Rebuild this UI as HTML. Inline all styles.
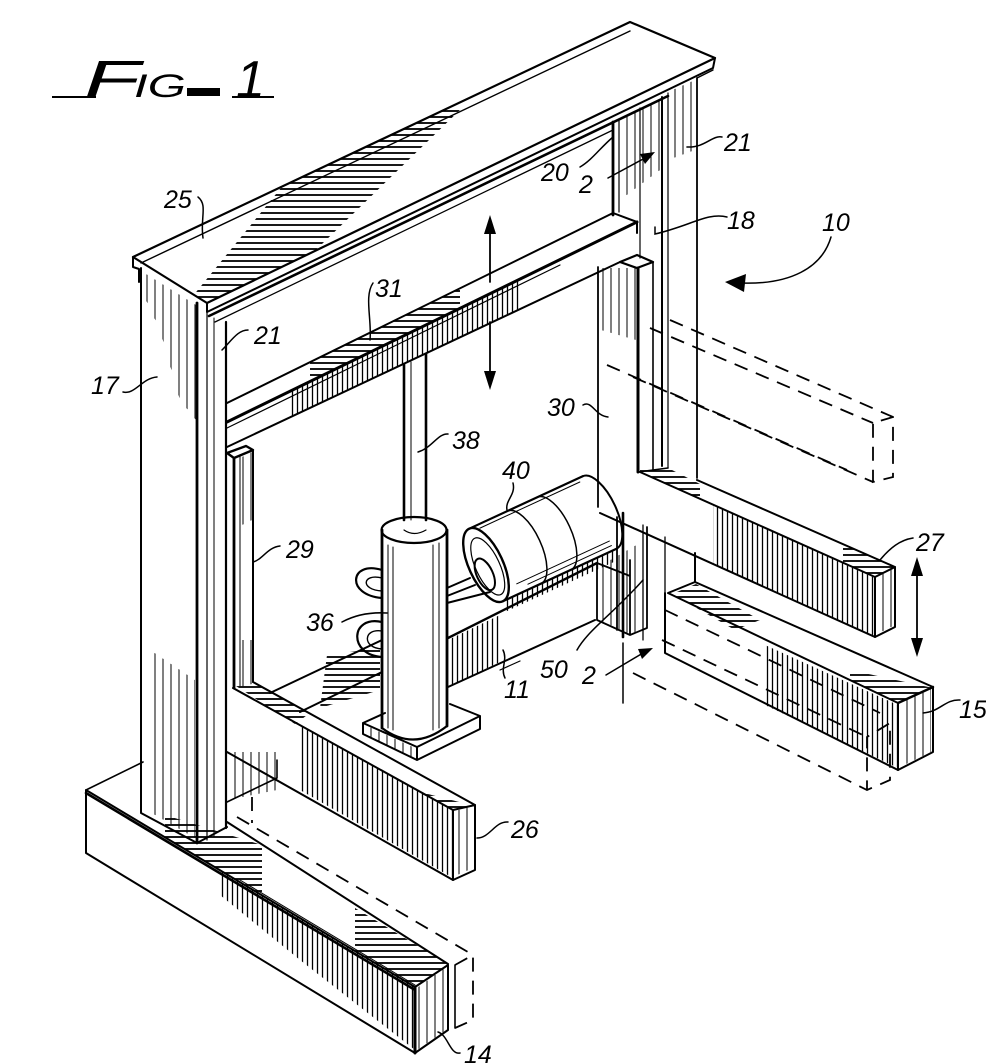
<!DOCTYPE html>
<html><head><meta charset="utf-8"><style>
html,body{margin:0;padding:0;background:#fff;}
svg{display:block;}
text{font-family:"Liberation Sans",sans-serif;font-style:italic;fill:#000;stroke:none;}
</style></head><body>
<svg width="986" height="1064" viewBox="0 0 986 1064" xmlns="http://www.w3.org/2000/svg">
<defs>
 <pattern id="hh" width="10" height="6" patternUnits="userSpaceOnUse"><line x1="0" y1="3" x2="10" y2="3" stroke="#000" stroke-width="1.8"/></pattern>
 <pattern id="vv" width="5" height="10" patternUnits="userSpaceOnUse"><line x1="2.5" y1="0" x2="2.5" y2="10" stroke="#000" stroke-width="1.3"/></pattern>
 <pattern id="vs" width="8" height="10" patternUnits="userSpaceOnUse"><line x1="3" y1="0" x2="3" y2="10" stroke="#000" stroke-width="1"/></pattern>
 <clipPath id="top25"><polygon points="133,257 630,22 715,58 207,303"/></clipPath>
</defs>

<!-- Title -->
<g>
 <line x1="52" y1="97" x2="96" y2="97" stroke="#000" stroke-width="2"/>
 <text x="84" y="97" font-size="52" textLength="56" lengthAdjust="spacingAndGlyphs">F</text>
 <text x="134" y="97" font-size="32" textLength="52" lengthAdjust="spacingAndGlyphs">IG</text>
 <rect x="187" y="88" width="33" height="8" fill="#000"/>
 <text x="236" y="97" font-size="52">1</text>
 <line x1="232" y1="97" x2="274" y2="97" stroke="#000" stroke-width="2"/>
</g>

<!-- hatching fills -->
<g stroke="none">
 <polygon clip-path="url(#top25)" points="188,302 338,118 462,108 252,312" fill="url(#hh)"/>
 <polygon points="310,362 460,288 460,308 310,381" fill="url(#hh)"/>
 <polygon points="290,391 520,279 520,309 290,417" fill="url(#vv)"/>
 <polygon points="146,274 196,305 196,420 180,400 160,330 146,300" fill="url(#vs)"/>
 <polygon points="150,650 195,680 195,838 150,812" fill="url(#vs)"/>
 <polygon points="601,268 636,268 636,340 601,330" fill="url(#vs)"/>
 <polygon points="620,120 660,100 660,170 620,200" fill="url(#vs)"/>
 <polygon points="668,92 695,80 695,150 668,160" fill="url(#vs)"/>
 <polygon points="640,466 668,468 700,484 700,499 640,473" fill="url(#hh)"/>
 <polygon points="843,544 895,567 875,577 843,563" fill="url(#hh)"/>
 <polygon points="713,505 875,578 875,636 713,564" fill="url(#vv)"/>
 <polygon points="877,577 893,569 893,626 877,634" fill="url(#vs)"/>
 <polygon points="672,594 696,584 760,620 735,630" fill="url(#hh)"/>
 <polygon points="850,670 933,688 898,703 850,680" fill="url(#hh)"/>
 <polygon points="765,645 898,705 898,768 765,705" fill="url(#vv)"/>
 <polygon points="900,703 931,689 931,752 900,767" fill="url(#vs)"/>
 <polygon points="236,686 253,683 310,713 295,724" fill="url(#hh)"/>
 <polygon points="420,792 475,806 453,810 420,793" fill="url(#hh)"/>
 <polygon points="300,725 453,811 453,878 300,790" fill="url(#vv)"/>
 <polygon points="455,811 473,806 473,868 455,876" fill="url(#vs)"/>
 <polygon points="165,815 262,845 262,895 165,837" fill="url(#hh)"/>
 <polygon points="355,908 448,964 415,987 355,951" fill="url(#hh)"/>
 <polygon points="220,870 415,987 415,1050 300,960 220,895" fill="url(#vv)"/>
 <polygon points="417,988 446,967 446,1030 417,1050" fill="url(#vs)"/>
 <polygon points="327,655 380,648 380,690 320,708" fill="url(#hh)"/>
 <polygon points="448,640 500,615 500,662 448,687" fill="url(#vv)"/>
 <polygon points="505,600 616,549 616,561 505,612" fill="url(#vv)"/>
 <polygon points="365,725 417,749 417,760 365,735" fill="url(#vs)"/>
 <polygon points="236,460 252,452 252,520 236,528" fill="url(#vs)"/>
 <polygon points="236,640 252,640 252,684 236,688" fill="url(#vs)"/>
 <polygon points="228,752 277,752 277,790 228,800" fill="url(#vs)"/>
 <polygon points="600,566 645,540 645,628 630,634 600,620" fill="url(#vs)"/>
</g>

<g fill="none" stroke="#000" stroke-width="2" stroke-linejoin="round" stroke-linecap="round">
 <!-- Top beam 25 -->
 <path d="M133,257 L630,22 L715,58 L207,303 Z" stroke-width="2.2"/>
 <path d="M141,263 L630,31" stroke-width="1.4"/>
 <path d="M133,257 L133,267 L139,269 L139,282"/>
 <path d="M207,303 L207,312 L713,68 L715,58"/>
 <path d="M209,316 L668,96" stroke-width="2.6"/>
 <path d="M215,322 L613,130" stroke-width="1.3"/>
 <!-- Left column 17 -->
 <path d="M141,268 L141,813 L197,843 L227,827"/>
 <path d="M197,303 L197,843" stroke-width="2.8"/>
 <path d="M207,310 L207,840" stroke-width="1.2"/>
 <path d="M214,318 L214,836" stroke-width="1"/>
 <path d="M226,322 L226,828" stroke-width="2.2"/>
 <!-- Right column 18 -->
 <path d="M613,122 L613,215" stroke-width="2.8"/>
 <path d="M619,119 L619,212" stroke-width="1.2"/>
 <path d="M640,108 L640,258" stroke-width="1.2"/>
 <path d="M662,97 L662,466" stroke-width="2"/>
 <path d="M668,93 L668,468" stroke-width="1.2"/>
 <path d="M697,78 L697,478" stroke-width="1.8"/>
 <path d="M697,78 L713,70" stroke-width="1.4"/>
 <!-- Carriage 30 -->
 <path d="M620,262 L637,255 L653,262 L637,268 Z" stroke-width="2.2"/>
 <path d="M638,268 L638,472" stroke-width="3"/>
 <path d="M653,262 L653,470" stroke-width="1.6"/>
 <path d="M598,267 L598,507" stroke-width="1.8"/>
 <path d="M638,472 L668,468" stroke-width="1.6"/>
 <!-- Beam 31 -->
 <path d="M227,403 L613,213 L637,222 L637,233"/>
 <path d="M227,422 L637,222" stroke-width="3"/>
 <path d="M227,428 L560,265" stroke-width="1.2"/>
 <path d="M227,447 L620,262" stroke-width="2"/>
 <!-- vertical double arrow -->
 <path d="M490,230 L490,282" stroke-width="1.8"/>
 <path d="M490,322 L490,375" stroke-width="1.8"/>
 <!-- Rod 38 -->
 <path d="M404,364 L404,520" stroke-width="2.6"/>
 <path d="M426,354 L426,520" stroke-width="2.6"/>
 <path d="M411,362 L411,520" stroke-width="1"/>
 <!-- Cylinder 36 -->
 <ellipse cx="414" cy="530" rx="32.5" ry="13" stroke-width="2.2"/>
 <path d="M382,530 L382,728" stroke-width="2.8"/>
 <path d="M447,530 L447,726" stroke-width="2.8"/>
 <path d="M382,728 Q414,752 447,726" stroke-width="2.2"/>
 <path d="M388,545 L388,728 M393,547 L393,730 M433,545 L433,730 M439,543 L439,728" stroke-width="1"/>
 <path d="M404,530 Q414,537 426,530" stroke-width="1.2"/>
 <!-- Cylinder base plate -->
 <path d="M363,723 L417,747 L480,716 L450,704 M363,723 L385,713 M363,723 L363,734 L417,760 L480,729 L480,716 M417,747 L417,760"/>
 <!-- Hoses -->
 <path d="M382,570 C350,560 345,595 382,598" stroke-width="2.2"/>
 <path d="M382,578 C362,573 360,590 382,591" stroke-width="1.4"/>
 <path d="M382,622 C350,615 348,655 382,657" stroke-width="2.2"/>
 <path d="M382,631 C363,628 362,648 382,649" stroke-width="1.4"/>
 <path d="M447,588 L470,578 M447,596 L475,585 M447,603 L490,592" stroke-width="2"/>
 <!-- Base member 11 -->
 <path d="M270,693 L382,640 M300,712 L382,672"/>
 <path d="M448,638 L597,563" stroke-width="2.4"/>
 <path d="M448,687 L595,620"/>
 <path d="M500,670 L520,661" stroke-width="1.2"/>
 <!-- Box near 50 -->
 <path d="M597,563 L597,620 L630,635 L647,628 L647,527 M617,517 L617,630 M630,560 L630,635 M597,563 L630,576" stroke-width="1.8"/>
 <!-- Motor 40 -->
 <g transform="translate(486,565) rotate(-24.8)">
  <ellipse cx="0" cy="0" rx="17" ry="40" stroke-width="2.4"/>
  <ellipse cx="1" cy="2" rx="12" ry="31" stroke-width="1.2"/>
  <ellipse cx="-5" cy="8" rx="8" ry="17" stroke-width="2"/>
  <path d="M0,-40 L125,-40 M0,40 L125,40" stroke-width="2.2"/>
  <path d="M125,-40 A17,40 0 0 1 125,40" stroke-width="2"/>
  <path d="M42,-40 A17,40 0 0 1 42,40 M75,-40 A17,40 0 0 1 75,40" stroke-width="1.5"/>
  <path d="M10,-36 L120,-36 M20,30 L122,30 M30,35 L122,35" stroke-width="1"/>
 </g>
 <!-- Arm 27 -->
 <path d="M640,472 L875,577 L895,567 L697,480"/>
 <path d="M875,577 L875,637 L895,627 L895,567"/>
 <path d="M600,513 L875,637" stroke-width="2"/>
 <!-- Carriage lower legs -->
 <path d="M623,513 L623,637" stroke-width="2.6"/>
 <path d="M643,525 L643,640 M665,537 L665,600" stroke-width="1.3"/>
 <!-- Member 15 -->
 <path d="M695,553 L695,582 L933,687 L933,752 L898,770 L898,703 L668,593 L695,582"/>
 <path d="M665,593 L665,653 L898,770" stroke-width="2"/>
 <path d="M898,703 L933,687" stroke-width="2.4"/>
 <!-- double arrow right -->
 <path d="M917,572 L917,642" stroke-width="1.8"/>
 <!-- Carriage 29 -->
 <path d="M227,453 L246,446 L253,450 L234,458 Z" stroke-width="2.4"/>
 <path d="M234,458 L234,688" stroke-width="2.8"/>
 <path d="M240,456 L240,686" stroke-width="1"/>
 <path d="M253,450 L253,682"/>
 <!-- Arm 26 -->
 <path d="M233,688 L453,810 L475,805 L253,682"/>
 <path d="M453,810 L453,880 L475,870 L475,805"/>
 <path d="M227,752 L453,880" stroke-width="2"/>
 <path d="M227,802 L277,778 L277,760" stroke-width="1.6"/>
 <!-- Base 14 -->
 <path d="M86,790 L143,762" stroke-width="1.6"/>
 <path d="M86,790 L415,987 L448,965 L448,1030 L415,1053 L86,853 Z" stroke-width="2"/>
 <path d="M86,793 L415,990" stroke-width="2.6"/>
 <path d="M415,987 L415,1053" stroke-width="3"/>
 <path d="M227,822 L448,964"/>
 <path d="M240,880 L415,985" stroke-width="1"/>
 <path d="M455,965 L455,1028" stroke-width="1.6"/>
</g>

<!-- dashed phantom lines -->
<g fill="none" stroke="#000" stroke-width="1.8" stroke-dasharray="14 9">
 <path d="M670,320 L893,417 L893,477 L873,482 L873,423 L893,417"/>
 <path d="M650,328 L873,423"/>
 <path d="M607,365 L847,470"/>
 <path d="M633,377 L873,482"/>
 <path d="M665,610 L880,713"/>
 <path d="M662,640 L867,737"/>
 <path d="M633,673 L867,790 L890,780 L890,723 L867,737 L867,790"/>
 <path d="M237,817 L473,955 L473,1020 L455,1028"/>
 <path d="M455,965 L473,955"/>
 <path d="M252,797 L252,823"/>
</g>

<!-- arrowheads & section lines -->
<g fill="#000" stroke="none">
 <polygon points="490,215 484,234 496,234"/>
 <polygon points="490,390 484,371 496,371"/>
 <polygon points="917,557 911,576 923,576"/>
 <polygon points="917,657 911,638 923,638"/>
 <polygon points="725,282 746,274 744,292"/>
 <polygon points="655,152 645,164 640,154"/>
 <polygon points="653,648 642,659 638,649"/>
</g>
<g fill="none" stroke="#000" stroke-width="1.5" stroke-linecap="round">
 <path d="M608,178 L645,158"/>
 <path d="M606,675 L643,653"/>
 <path d="M623,643 L623,703"/>
 <!-- leaders -->
 <path d="M198,197 C208,205 200,218 203,238"/>
 <path d="M248,330 C238,330 232,340 222,350"/>
 <path d="M373,283 C364,296 372,320 370,340"/>
 <path d="M123,392 C135,395 142,378 157,377"/>
 <path d="M448,434 C438,433 432,448 418,452"/>
 <path d="M513,483 C516,495 505,500 507,510"/>
 <path d="M280,546 C268,547 262,560 253,562"/>
 <path d="M342,622 C355,615 370,612 387,613"/>
 <path d="M577,650 C588,630 615,612 643,580"/>
 <path d="M503,650 C508,660 500,668 505,678"/>
 <path d="M580,167 C592,160 600,148 613,137"/>
 <path d="M722,137 C712,135 705,148 687,147"/>
 <path d="M727,217 C708,212 690,226 655,234 L655,227"/>
 <path d="M831,237 C822,268 790,285 740,283"/>
 <path d="M583,405 C592,400 595,416 608,417"/>
 <path d="M913,538 C900,540 890,548 880,560"/>
 <path d="M960,700 C945,699 940,712 923,713"/>
 <path d="M508,822 C495,821 490,838 477,838"/>
 <path d="M460,1053 C450,1055 448,1035 438,1032"/>
</g>

<!-- labels -->
<g font-size="25">
 <text x="164" y="208">25</text>
 <text x="254" y="344">21</text>
 <text x="375" y="297">31</text>
 <text x="91" y="394">17</text>
 <text x="452" y="449">38</text>
 <text x="502" y="479">40</text>
 <text x="286" y="558">29</text>
 <text x="306" y="631">36</text>
 <text x="540" y="678">50</text>
 <text x="504" y="698">11</text>
 <text x="582" y="684">2</text>
 <text x="541" y="181">20</text>
 <text x="579" y="193">2</text>
 <text x="724" y="151">21</text>
 <text x="727" y="229">18</text>
 <text x="822" y="231">10</text>
 <text x="547" y="416">30</text>
 <text x="916" y="551">27</text>
 <text x="959" y="718">15</text>
 <text x="511" y="838">26</text>
 <text x="464" y="1063">14</text>
</g>
</svg>
</body></html>
